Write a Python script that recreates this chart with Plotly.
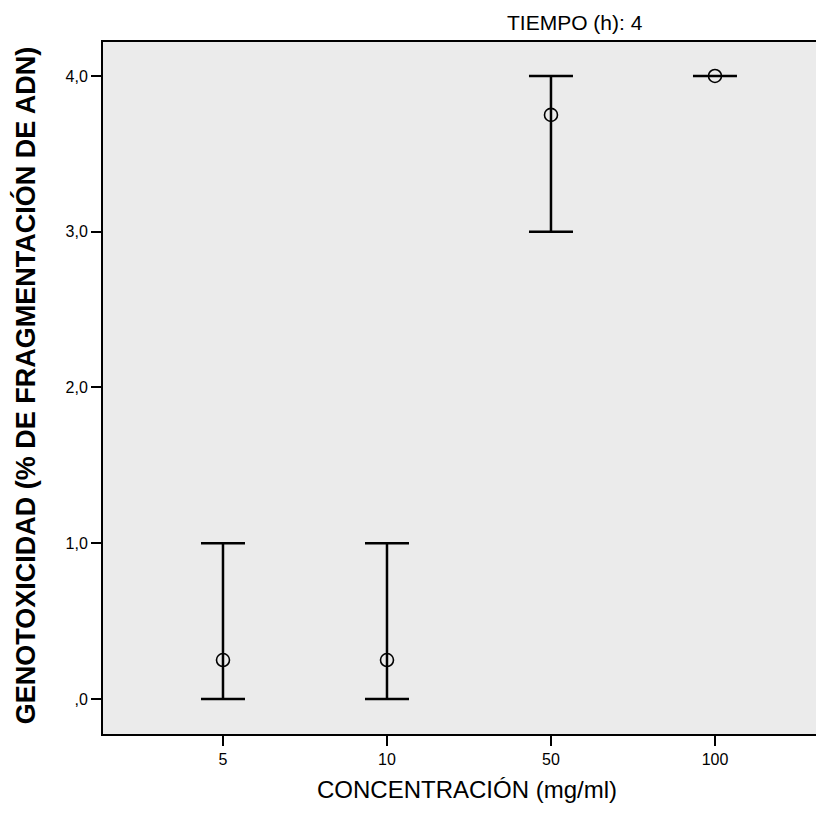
import plotly.graph_objects as go

# Data
concentrations = ["5", "10", "50", "100"]
means = [0.25, 0.25, 3.75, 4.0]
lower = [0.0, 0.0, 3.0, 4.0]
upper = [1.0, 1.0, 4.0, 4.0]
y_tickvals = [0, 1, 2, 3, 4]
y_ticktext = [",0", "1,0", "2,0", "3,0", "4,0"]

err_plus = [u - m for u, m in zip(upper, means)]
err_minus = [m - l for m, l in zip(means, lower)]

fig = go.Figure()
fig.add_trace(go.Scatter(
    x=concentrations, y=means, mode="markers",
    marker=dict(symbol="circle-open", size=13, color="black", line=dict(width=1.6)),
    error_y=dict(type="data", symmetric=False, array=err_plus, arrayminus=err_minus,
                 color="black", thickness=2.5, width=22),
    showlegend=False, hoverinfo="skip",
))

font = "Arial, Liberation Sans, sans-serif"

fig.update_layout(
    width=808, height=801,
    margin=dict(l=95, r=0, t=34, b=75),
    paper_bgcolor="white",
    plot_bgcolor="#ebebeb",
    font=dict(family=font, color="black", size=16),
    xaxis=dict(type="category", range=[-0.7317, 3.616],
               showline=True, linecolor="black", linewidth=2, mirror=True,
               ticks="outside", ticklen=10, tickwidth=2, tickcolor="black",
               showgrid=False, zeroline=False,
               tickfont=dict(size=16, family=font, color="black")),
    yaxis=dict(range=[-0.2247, 4.218],
               showline=True, linecolor="black", linewidth=2, mirror=False,
               ticks="outside", ticklen=10, tickwidth=2, tickcolor="black",
               tickvals=y_tickvals, ticktext=y_ticktext,
               showgrid=False, zeroline=False,
               tickfont=dict(size=16, family=font, color="black")),
    annotations=[
        dict(text="TIEMPO (h): 4", xref="paper", yref="paper",
             x=0.662, y=1.0289, xanchor="center", yanchor="middle",
             showarrow=False, font=dict(size=21, family=font, color="black")),
        dict(text="CONCENTRACIÓN (mg/ml)", xref="paper", yref="paper",
             x=0.5105, y=-0.0795, xanchor="center", yanchor="middle",
             showarrow=False, font=dict(size=24, family=font, color="black")),
        dict(text="<b>GENOTOXICIDAD (% DE FRAGMENTACIÓN DE ADN)</b>", xref="paper", yref="paper",
             x=-0.1094, y=0.504, xanchor="center", yanchor="middle", textangle=-90,
             showarrow=False, font=dict(size=27, family=font, color="black")),
    ],
)

fig.write_html("out.html")
